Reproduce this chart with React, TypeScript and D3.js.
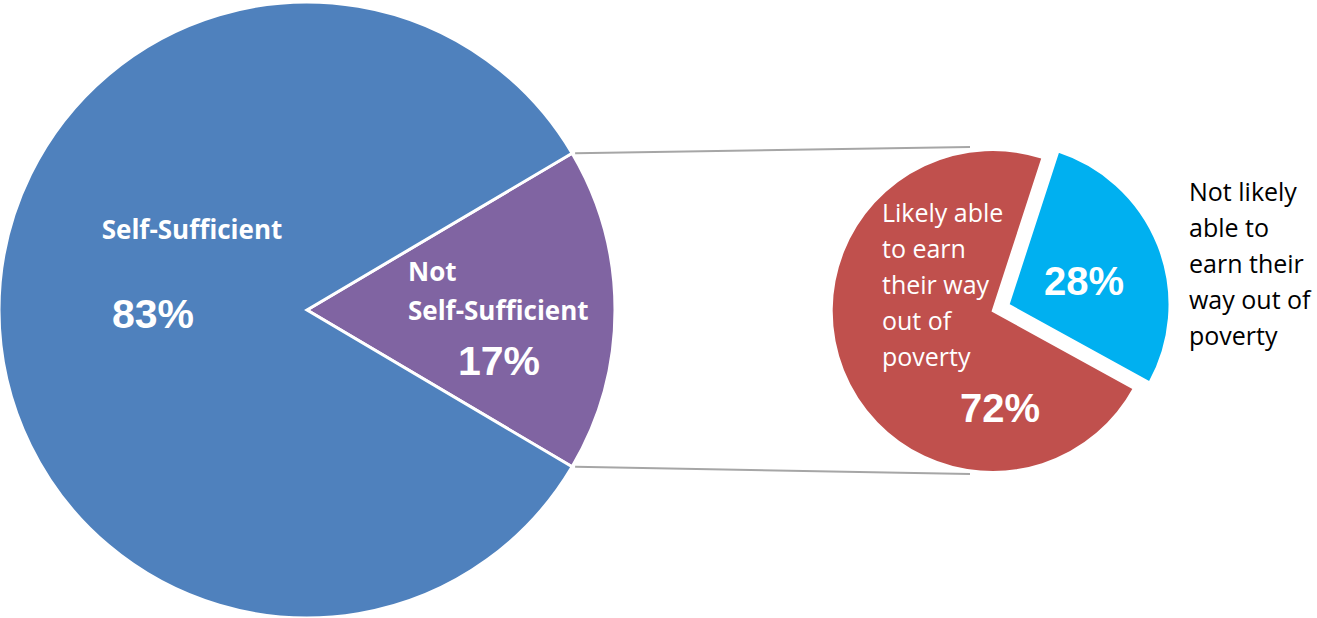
import React from "react";
import * as d3 from "d3";

const mainCategories = ["Not Self-Sufficient", "Self-Sufficient"];
const mainValues = [17, 83];
const mainColors = ["#8064A2", "#4F81BD"];

const subCategories = ["Not likely able to earn their way out of poverty", "Likely able to earn their way out of poverty"];
const subValues = [28, 72];
const subColors = ["#00B0F0", "#C0504D"];

const subLabelLines = ["Likely able", "to earn", "their way", "out of", "poverty"];
const sideLabelLines = ["Not likely", "able to", "earn their", "way out of", "poverty"];

const W = 1317;
const H = 618;

export default function App() {
  const deg = Math.PI / 180;
  const mc = { x: 307, y: 310 };
  const mr = 308;
  const mainTotal = d3.sum(mainValues);
  const mainStart = Math.PI / 2 - (mainValues[0] / mainTotal) * Math.PI;
  const mainPie = d3.pie<number>().sort(null).startAngle(mainStart).endAngle(mainStart + 2 * Math.PI)(mainValues);
  const mainArc = d3.arc<d3.PieArcDatum<number>>().innerRadius(0).outerRadius(mr);

  const sc = { x: 992.7, y: 311 };
  const sr = 161;
  const subStart = 18 * deg;
  const subPie = d3.pie<number>().sort(null).startAngle(subStart).endAngle(subStart + 2 * Math.PI)(subValues);
  const subArc = d3.arc<d3.PieArcDatum<number>>().innerRadius(0).outerRadius(sr);
  const explode = 17;

  const p = mainPie[0];
  const topPt = [mc.x + mr * Math.sin(p.startAngle), mc.y - mr * Math.cos(p.startAngle)];
  const botPt = [mc.x + mr * Math.sin(p.endAngle), mc.y - mr * Math.cos(p.endAngle)];

  const labelFont = "'Open Sans', sans-serif";
  const pctFont = "'Liberation Sans', Arial, sans-serif";

  return (
    <svg width={W} height={H} style={{ position: "absolute", left: 0, top: 0 }}>
      <rect width={W} height={H} fill="#fff" />
      <line x1={topPt[0] + 3} y1={topPt[1]} x2={970} y2={147} stroke="#A6A6A6" strokeWidth={2} />
      <line x1={botPt[0] + 3} y1={botPt[1]} x2={970} y2={474} stroke="#A6A6A6" strokeWidth={2} />
      <g transform={`translate(${mc.x},${mc.y})`}>
        {mainPie.map((d, i) => (
          <path key={mainCategories[i]} d={mainArc(d) || ""} fill={mainColors[i]} stroke="#fff" strokeWidth={3} strokeLinejoin="miter" />
        ))}
      </g>
      <g transform={`translate(${sc.x},${sc.y})`}>
        {subPie.map((d, i) => {
          const mid = (d.startAngle + d.endAngle) / 2;
          const off = i === 0 ? explode : 0;
          const tx = off * Math.sin(mid);
          const ty = -off * Math.cos(mid);
          return (
            <path key={subCategories[i]} d={subArc(d) || ""} fill={subColors[i]} stroke="#fff" strokeWidth={2}
              transform={`translate(${tx},${ty})`} />
          );
        })}
      </g>
      <text x={192} y={239} textAnchor="middle" fill="#fff" fontFamily={labelFont} fontWeight={700} fontSize={26} letterSpacing={0}>Self-Sufficient</text>
      <text x={153} y={328} textAnchor="middle" fill="#fff" fontFamily={pctFont} fontWeight={700} fontSize={41}>{`${mainValues[1]}%`}</text>
      <text x={408} y={281} fill="#fff" fontFamily={labelFont} fontWeight={700} fontSize={26}>Not</text>
      <text x={408} y={320} fill="#fff" fontFamily={labelFont} fontWeight={700} fontSize={26}>Self-Sufficient</text>
      <text x={499} y={375} textAnchor="middle" fill="#fff" fontFamily={pctFont} fontWeight={700} fontSize={41}>{`${mainValues[0]}%`}</text>
      {subLabelLines.map((t, i) => (
        <text key={t} x={882} y={222 + i * 36} fill="#fff" fontFamily={labelFont} fontSize={25}>{t}</text>
      ))}
      <text x={1000} y={422} textAnchor="middle" fill="#fff" fontFamily={pctFont} fontWeight={700} fontSize={40}>{`${subValues[1]}%`}</text>
      <text x={1084} y={295} textAnchor="middle" fill="#fff" fontFamily={pctFont} fontWeight={700} fontSize={40}>{`${subValues[0]}%`}</text>
      {sideLabelLines.map((t, i) => (
        <text key={t} x={1189} y={201 + i * 36} fill="#000" fontFamily={labelFont} fontSize={25}>{t}</text>
      ))}
    </svg>
  );
}
